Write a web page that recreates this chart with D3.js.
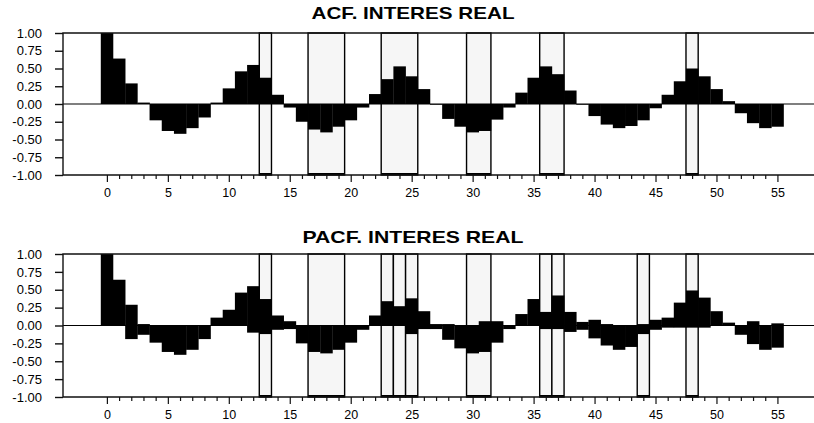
<!DOCTYPE html>
<html>
<head>
<meta charset="utf-8">
<script src="https://cdn.jsdelivr.net/npm/d3@7"></script>
<style>
  body { margin: 0; background: #fff; }
  svg { display: block; }
  text { font-family: "Liberation Sans", Arial, sans-serif; fill: #000; }
</style>
</head>
<body>
<svg id="chart" width="814" height="423"></svg>
<script>
// lags 0..55
const lags = d3.range(0, 56)

const acf = [1.00, 0.64, 0.29, 0.02, -0.23, -0.38, -0.42, -0.34, -0.19, 0.02,
  0.22, 0.46, 0.55, 0.37, 0.13, -0.05, -0.25, -0.36, -0.40, -0.32,
  -0.23, -0.05, 0.14, 0.35, 0.53, 0.39, 0.21, -0.01, -0.21, -0.32,
  -0.40, -0.38, -0.22, -0.05, 0.16, 0.37, 0.53, 0.42, 0.19, -0.01,
  -0.17, -0.29, -0.34, -0.31, -0.23, -0.06, 0.13, 0.32, 0.50, 0.39,
  0.21, 0.04, -0.13, -0.27, -0.34, -0.32]

// pacf panel bars reach from the low value up to the high value
const pacfHigh = [1.00, 0.64, 0.29, 0.02, 0, 0, 0, 0, 0, 0.11,
  0.22, 0.46, 0.55, 0.37, 0.14, 0.06, 0, 0, 0, 0,
  0, 0, 0.14, 0.34, 0.27, 0.38, 0.20, 0.02, 0.02, 0,
  0, 0.06, 0.06, 0, 0.16, 0.37, 0.19, 0.42, 0.19, 0.05,
  0.08, 0.02, 0, 0, 0.02, 0.08, 0.11, 0.32, 0.49, 0.39,
  0.20, 0.04, 0, 0.06, 0, 0.03]
const pacfLow = [0, 0, -0.19, -0.13, -0.24, -0.37, -0.41, -0.34, -0.19, 0,
  0, 0, -0.10, -0.12, -0.06, -0.05, -0.25, -0.37, -0.39, -0.34,
  -0.24, -0.06, 0, 0, 0, -0.12, -0.05, -0.05, -0.20, -0.32,
  -0.39, -0.37, -0.24, -0.05, 0, 0, -0.05, -0.05, -0.09, -0.06,
  -0.18, -0.28, -0.34, -0.30, -0.12, -0.06, -0.03, -0.03, -0.03, -0.03,
  0, 0, -0.13, -0.26, -0.34, -0.31]

// shaded lag ranges [first, last]
const acfBands = [[13, 13], [17, 19], [23, 25], [30, 31], [36, 37], [48, 48]]
const pacfBands = [[13, 13], [17, 19], [23, 23], [24, 24], [25, 25], [30, 31],
  [36, 36], [37, 37], [44, 44], [48, 48]]

const yTicks = [1, 0.75, 0.5, 0.25, 0, -0.25, -0.5, -0.75, -1]
const xTicks = d3.range(0, 56, 5)

const svg = d3.select('#chart')

const x = d3.scaleLinear().domain([-3.6, 58]).range([63, 814])

function panel(title, top, bottom, titleY, bars, bands) {
  const y = d3.scaleLinear().domain([-1, 1]).range([bottom, top])
  const g = svg.append('g')

  g.append('text')
    .attr('x', 413).attr('y', titleY)
    .attr('text-anchor', 'middle')
    .attr('font-size', 17).attr('font-weight', 'bold')
    .attr('textLength', title.length > 17 ? 221 : 203)
    .attr('lengthAdjust', 'spacingAndGlyphs')
    .text(title)

  // shaded bands first, bars go over them
  g.selectAll('rect.band').data(bands).join('rect')
    .attr('class', 'band')
    .attr('x', d => x(d[0] - 0.5))
    .attr('width', d => x(d[1] + 0.5) - x(d[0] - 0.5))
    .attr('y', y(1))
    .attr('height', y(-1) - y(1))
    .attr('fill', '#f6f6f6')
    .attr('stroke', '#000')
    .attr('stroke-width', 1.4)
  g.selectAll('line.bandfoot').data(bands).join('line')
    .attr('class', 'bandfoot')
    .attr('x1', d => x(d[0] - 0.5)).attr('x2', d => x(d[1] + 0.5))
    .attr('y1', y(-1) - 1).attr('y2', y(-1) - 1)
    .attr('stroke', '#000').attr('stroke-width', 2)

  g.selectAll('rect.bar').data(bars).join('rect')
    .attr('class', 'bar')
    .attr('x', d => x(d.lag - 0.5))
    .attr('width', d => x(d.lag + 0.5) - x(d.lag - 0.5) + 0.3)
    .attr('y', d => y(d.hi))
    .attr('height', d => y(d.lo) - y(d.hi))
    .attr('fill', '#000')

  // zero line
  g.append('line')
    .attr('x1', x.range()[0]).attr('x2', 814)
    .attr('y1', y(0)).attr('y2', y(0))
    .attr('stroke', '#000').attr('stroke-width', 1.2)

  // frame: top, left, bottom
  g.append('path')
    .attr('d', `M814,${y(1)}H${x.range()[0]}V${y(-1)}H814`)
    .attr('fill', 'none').attr('stroke', '#111').attr('stroke-width', 1.4)

  // y axis
  const ya = g.append('g')
    .attr('transform', `translate(${x.range()[0]},0)`)
    .call(d3.axisLeft(y).tickValues(yTicks).tickFormat(d3.format('.2f'))
      .tickSize(8).tickPadding(13))
  ya.select('.domain').remove()
  ya.selectAll('line').attr('stroke', '#111').attr('stroke-width', 1.4)
  ya.selectAll('text').attr('font-size', 13).attr('font-family', null)
    .text(d => d3.format('.2f')(d).replace('−', '-'))

  // x axis, minor tick on every lag
  const xa = g.append('g')
    .attr('transform', `translate(0,${y(-1)})`)
    .call(d3.axisBottom(x).tickValues(lags).tickSize(4)
      .tickFormat(d => d % 5 === 0 ? d : ''))
  xa.select('.domain').remove()
  xa.selectAll('.tick line').attr('stroke', '#111').attr('stroke-width', 1.2)
    .filter(d => d % 5 === 0).attr('y2', 7)
  xa.selectAll('.tick text').attr('font-size', 12.5).attr('font-family', null)
    .attr('y', 13)
}

panel('ACF. INTERES REAL', 33, 175, 18.5,
  lags.map(i => ({ lag: i, hi: Math.max(0, acf[i]), lo: Math.min(0, acf[i]) })),
  acfBands)

panel('PACF. INTERES REAL', 254, 397, 243,
  lags.map(i => ({ lag: i, hi: pacfHigh[i], lo: pacfLow[i] })),
  pacfBands)
</script>
</body>
</html>
